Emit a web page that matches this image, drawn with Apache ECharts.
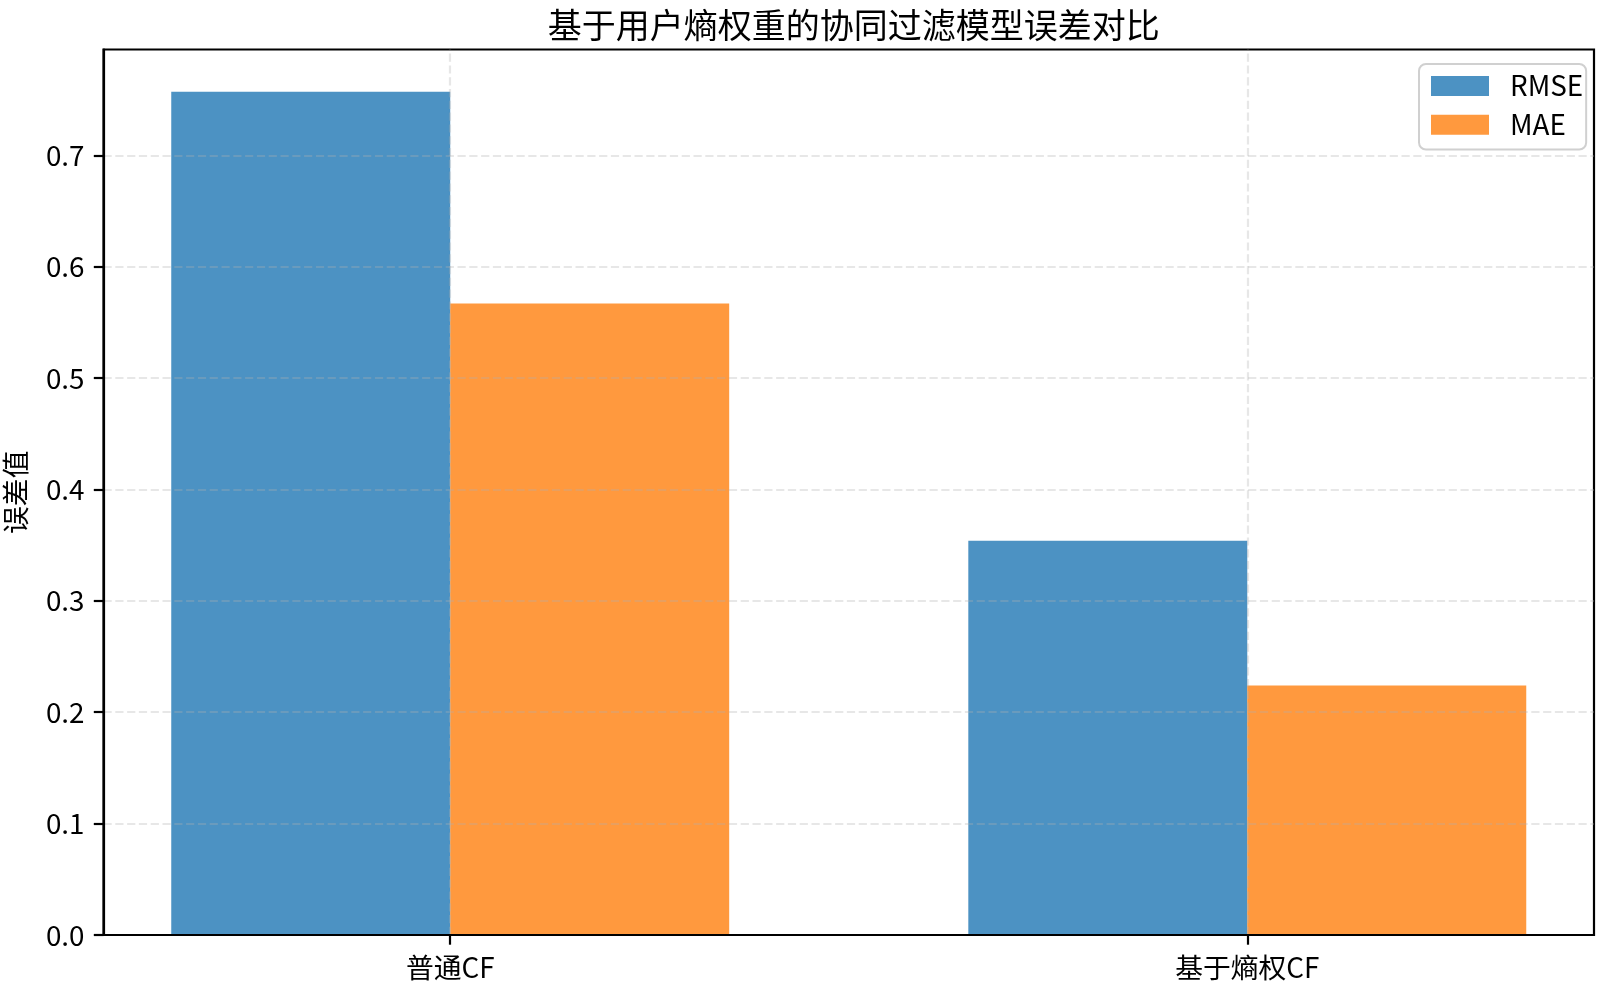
<!DOCTYPE html>
<html>
<head>
<meta charset="utf-8">
<script src="https://cdn.jsdelivr.net/npm/echarts@6/dist/echarts.min.js"></script>
<style>
html,body{margin:0;padding:0;background:#fff;}
#chart{width:1600px;height:990px;}
</style>
</head>
<body>
<div id="chart"></div>
<script>
const categories = ['普通CF', '基于熵权CF'];
const seriesNames = ['RMSE', 'MAE'];
const rmseValues = [0.757, 0.354];
const maeValues = [0.567, 0.224];
const yTicks = [0, 0.1, 0.2, 0.3, 0.4, 0.5, 0.6, 0.7];
const titleText = '基于用户熵权重的协同过滤模型误差对比';
const yAxisName = '误差值';

const FONT = '"Noto Sans CJK SC", sans-serif';
const FS = 27.8;
const yMax = 0.795;

// plot frame
const plotLeft = 103.5, plotRight = 1594, plotTop = 49.5, plotBottom = 935;
const plotW = plotRight - plotLeft;
// matplotlib-like x range: categories at 0..n-1, bar width 0.35 per series, 5% margins
const barW = 0.35;
const span = categories.length - 1 + 2 * barW;
const xMin = -barW - 0.05 * span;
const xMax = categories.length - 1 + barW + 0.05 * span;
const pxPerUnit = plotW / (xMax - xMin);
const cat0Px = plotLeft + (0 - xMin) * pxPerUnit;

const gridStyle = { color: 'rgba(176,176,176,0.3)', width: 2.2, type: [8.2, 3.6] };

const chart = echarts.init(document.getElementById('chart'), null, { renderer: 'canvas' });
chart.setOption({
  backgroundColor: '#fff',
  animation: false,
  title: {
    text: titleText,
    left: (plotLeft + plotRight) / 2,
    textAlign: 'center',
    top: 3,
    textStyle: { fontFamily: FONT, fontSize: 34, fontWeight: 'normal', color: '#000' }
  },
  legend: {
    orient: 'vertical',
    left: 1419,
    top: 64,
    padding: [8, 3, 11, 12],
    itemWidth: 58,
    itemHeight: 20,
    itemGap: 11,
    icon: 'rect',
    backgroundColor: 'rgba(255,255,255,0.8)',
    borderColor: '#d0d0d0',
    borderWidth: 2,
    borderRadius: 7,
    textStyle: { fontFamily: FONT, fontSize: FS, color: '#000', padding: [0, 0, 0, 16] },
    data: seriesNames
  },
  grid: [
    { left: plotLeft, top: plotTop, width: plotW, height: plotBottom - plotTop,
      outerBoundsMode: 'none',
      show: true, borderColor: '#000', borderWidth: 2.2, backgroundColor: 'transparent', containLabel: false },
    { left: cat0Px - pxPerUnit / 2, top: plotTop, width: pxPerUnit * categories.length,
      outerBoundsMode: 'none',
      height: plotBottom - plotTop, containLabel: false }
  ],
  xAxis: [
    { type: 'value', gridIndex: 0, min: 0, max: 1, z: 10,
      axisLine: { show: true, lineStyle: { color: '#000', width: 2.2 } },
      axisTick: { show: false }, axisLabel: { show: false }, splitLine: { show: false } },
    { type: 'category', gridIndex: 1, data: categories, z: 10,
      axisLine: { show: false },
      axisTick: { show: true, alignWithLabel: true, length: 9.7, lineStyle: { color: '#000', width: 2.2 } },
      axisLabel: { fontFamily: FONT, fontSize: FS, color: '#000', margin: 19 },
      splitLine: { show: false } }
  ],
  yAxis: [
    { type: 'value', gridIndex: 0, min: 0, max: yMax, interval: 0.1, z: 10,
      name: yAxisName, nameLocation: 'middle', nameRotate: 90, nameGap: 74,
      nameTextStyle: { fontFamily: FONT, fontSize: FS, color: '#000' },
      axisLine: { show: true, lineStyle: { color: '#000', width: 2.2 } },
      axisTick: { show: true, length: 9.7, lineStyle: { color: '#000', width: 2.2 }, customValues: yTicks },
      axisLabel: { fontFamily: FONT, fontSize: FS, color: '#000', margin: 19,
        customValues: yTicks, formatter: v => v.toFixed(1) },
      splitLine: { show: true, lineStyle: gridStyle } },
    { type: 'value', gridIndex: 1, min: 0, max: yMax, show: false, splitLine: { show: false } }
  ],
  series: [
    { name: seriesNames[0], type: 'bar', xAxisIndex: 1, yAxisIndex: 1,
      barWidth: barW * pxPerUnit, barGap: '0%',
      itemStyle: { color: '#1f77b4', opacity: 0.8 },
      data: rmseValues },
    { name: seriesNames[1], type: 'bar', xAxisIndex: 1, yAxisIndex: 1,
      barWidth: barW * pxPerUnit, barGap: '0%',
      itemStyle: { color: '#ff7f0e', opacity: 0.8 },
      data: maeValues },
    { name: 'vgrid', type: 'line', xAxisIndex: 1, yAxisIndex: 1, data: [], silent: true,
      markLine: { silent: true, symbol: 'none', label: { show: false },
        lineStyle: gridStyle, z: 5,
        data: categories.map((c, i) => ({ xAxis: i })) } }
  ]
});
</script>
</body>
</html>
